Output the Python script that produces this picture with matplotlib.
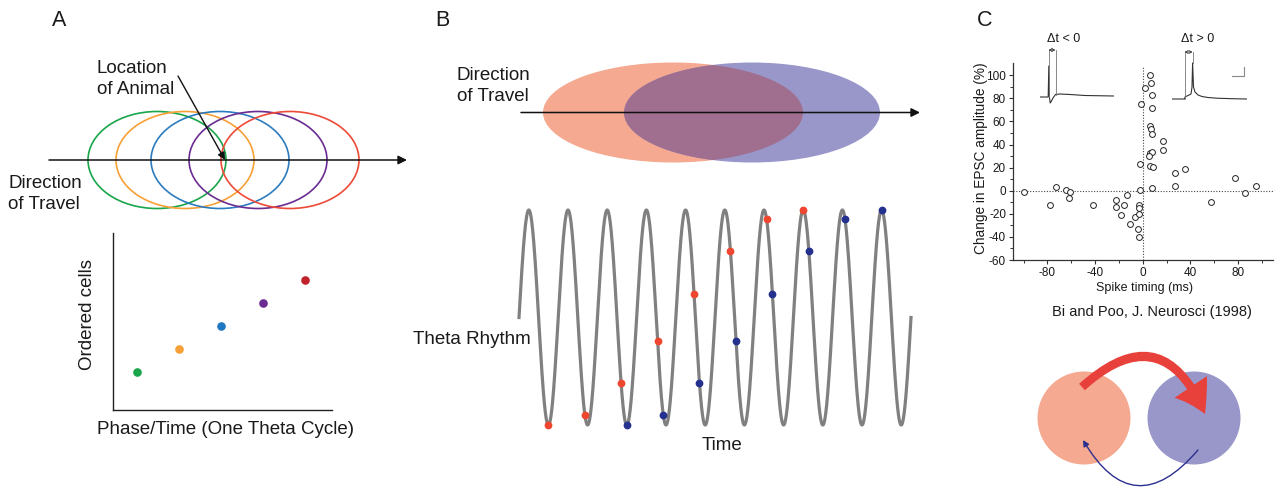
import numpy as np
import matplotlib
matplotlib.use('Agg')
import matplotlib.pyplot as plt
from matplotlib.patches import Ellipse, Circle, FancyArrowPatch

plt.rcParams['font.family'] = ['Liberation Sans', 'DejaVu Sans']
plt.rcParams['axes.unicode_minus'] = False

W, H = 1275, 488

# --- panel A: place fields along the track (track units) ---
field_centers = [11.7, 14.5, 18.0, 21.8, 25.0]
field_colors = ['#1aa54a', '#f7a035', '#2b7bc0', '#6a2c91', '#ee4a36']
animal_pos = 18.5

# firing order inside one theta cycle
cell_phase = [1, 2, 3, 4, 5]
cell_rank = [1, 2, 3, 4, 5]
dot_colors = ['#1aa54a', '#f7a035', '#1f78c0', '#6a2c91', '#c0232b']

# --- panel B: two overlapping fields, spikes precessing on theta ---
b_centers = [17.3, 25.2]
red_cycles = [0, 1, 2, 3, 4, 5, 6, 7]
blue_cycles = [2, 3, 4, 5, 6, 7, 8, 9]
spike_levels = [-1.0, -0.91, -0.61, -0.22, 0.22, 0.62, 0.92, 1.0]
n_cycles = 10

# --- panel C: Bi & Poo (1998) spike timing vs EPSC change ---
stdp_dt = [-99.4, -77.5, -72.5, -64.4, -60.7, -61.6, -41.4, -22.4, -22.1,
           -16.0, -13.2, -17.9, -10.9, -6.7, -3.9, -2.8, -3.1, -2.8, -3.4,
           -2.2, -2.0, -1.4, 2.2, 5.9, 7.3, 7.6, 7.8, 6.4, 7.3, 7.8, 6.4,
           7.8, 5.0, 6.4, 8.4, 8.1, 17.1, 16.8, 26.9, 27.4, 35.8, 57.7,
           77.2, 85.9, 95.2]
stdp_change = [-1.2, -12.4, 2.9, 0.3, -0.9, -6.3, -12.4, -8.1, -13.9,
               -12.4, -4.0, -21.4, -29.1, -22.8, -33.2, -40.4, -12.1, -15.3,
               -20.5, 0.9, 23.4, 75.3, 88.9, 100.4, 93.5, 83.1, 71.6, 56.0,
               53.4, 49.1, 32.6, 33.2, 29.7, 21.6, 20.8, 2.6, 43.0, 34.9,
               15.6, 4.0, 18.8, -9.5, 11.0, -2.3, 4.3]

# example traces for the two pairing orders
t_pre = [0, 8.2, 8.8, 9.4, 10.2, 11.5, 13, 15.5, 20, 30, 45, 74]
v_pre = [0, 0, 31, 0, -6, -4, -1, 2.5, 3, 2.5, 1.5, 1]
t_post = [0, 12.5, 13, 16, 19, 20, 20.6, 21.5, 23, 26, 30, 36, 45, 60, 75]
v_post = [0, 0, 2, 3.5, 5, 12, 36, 12, 7, 4, 2.5, 1.5, 0.8, 0.3, 0]

salmon = '#f5a990'
lilac = '#9997ca'
overlap = '#a06f8f'
txt = '#1a1a1a'

fig = plt.figure(figsize=(W / 100, H / 100), dpi=100)


def px_axes(x0, y0, x1, y1):
    ax = fig.add_axes([x0 / W, 1 - y1 / H, (x1 - x0) / W, (y1 - y0) / H])
    ax.patch.set_alpha(0)
    return ax


arrow_kw = dict(arrowstyle='-|>', color='#111111', lw=1.1,
                mutation_scale=13, shrinkA=0, shrinkB=0)

# A: place fields
axA = px_axes(40, 105, 410, 215)
axA.set_xlim(0, 37)
axA.set_ylim(-5.5, 5.5)
axA.axis('off')
for c, col in zip(field_centers, field_colors):
    axA.add_patch(Ellipse((c, 0), 13.8, 9.7, fill=False, ec=col, lw=1.2))
axA.annotate('', xy=(36.7, 0), xytext=(0.9, 0), arrowprops=arrow_kw)

# A: ordered cells vs phase
axS = px_axes(113, 233, 332, 410)
axS.set_xlim(0.43, 5.64)
axS.set_ylim(-0.65, 7.04)
for p, r, col in zip(cell_phase, cell_rank, dot_colors):
    axS.plot(p, r, 'o', ms=6.2, color=col, mec='none')
for s in ['top', 'right']:
    axS.spines[s].set_visible(False)
for s in ['left', 'bottom']:
    axS.spines[s].set_linewidth(1.0)
    axS.spines[s].set_color('#222222')
axS.set_xticks([])
axS.set_yticks([])

# B: overlapping fields
axB = px_axes(500, 55, 930, 170)
axB.set_xlim(0, 43)
axB.set_ylim(-5.75, 5.75)
axB.axis('off')
e1 = Ellipse((b_centers[0], 0), 26.0, 10.0, color=salmon, lw=0)
e2 = Ellipse((b_centers[1], 0), 25.6, 10.0, color=lilac, lw=0)
axB.add_patch(e1)
axB.add_patch(e2)
e3 = Ellipse((b_centers[0], 0), 26.0, 10.0, color=overlap, lw=0)
axB.add_patch(e3)
e3.set_clip_path(e2)
axB.annotate('', xy=(42.0, 0), xytext=(2.1, 0), arrowprops=arrow_kw)

# B: theta rhythm with precessing spikes
axT = px_axes(519, 210, 911, 425)
axT.set_xlim(0, n_cycles)
axT.set_ylim(-1, 1)
axT.axis('off')
t = np.linspace(0, n_cycles, 3000)
axT.plot(t, np.sin(2 * np.pi * t), color='#808080', lw=2.3, clip_on=False)
lv = np.array(spike_levels)
t_red = np.array(red_cycles) + 0.25 + np.arccos(lv) / (2 * np.pi)
t_blue = np.array(blue_cycles) + 0.25 + np.arccos(lv) / (2 * np.pi)
axT.plot(t_red, lv, 'o', ms=5.6, color='#ef4630', mec='none', clip_on=False, zorder=3)
axT.plot(t_blue, lv, 'o', ms=5.6, color='#25318f', mec='none', clip_on=False, zorder=3)

# C: STDP scatter
axC = px_axes(1013, 63, 1273, 260)
axC.set_xlim(-108.9, 109.4)
axC.set_ylim(-60, 110.6)
axC.axhline(0, color='#444444', lw=0.8, ls=(0, (1, 1.5)), zorder=1)
axC.plot([0, 0], [-60, 107], color='#444444', lw=0.8, ls=(0, (1, 1.5)), zorder=1)
axC.plot(stdp_dt, stdp_change, 'o', ms=4.2, mfc='white', mec='#222222',
         mew=0.7, zorder=3)
for s in ['top', 'right']:
    axC.spines[s].set_visible(False)
for s in ['left', 'bottom']:
    axC.spines[s].set_linewidth(0.9)
    axC.spines[s].set_color('#333333')
axC.set_xticks([-80, -40, 0, 40, 80])
axC.set_xticks([-100, -60, -20, 20, 60, 100], minor=True)
axC.set_yticks(np.arange(-60, 101, 20))
axC.set_yticks(np.arange(-50, 101, 20), minor=True)
axC.tick_params(which='major', direction='out', length=3, width=0.8,
                labelsize=8.5, pad=2, color='#333333', labelcolor=txt)
axC.tick_params(which='minor', direction='out', length=2, width=0.7,
                color='#333333')

# C: example traces
axL = px_axes(1040, 40, 1114, 105)
axL.set_xlim(0, 74)
axL.set_ylim(-8, 57)
axL.axis('off')
axL.plot(t_pre, v_pre, color='#333333', lw=0.8)
axL.plot([8.5, 8.5], [0, 47], color='#777777', lw=0.6)
axL.plot([15.5, 15.5], [2, 47], color='#777777', lw=0.6)
axL.annotate('', xy=(15.5, 47), xytext=(8.5, 47),
             arrowprops=dict(arrowstyle='<->', lw=0.6, color='#333333',
                             mutation_scale=5, shrinkA=0, shrinkB=0))

axR = px_axes(1172, 42, 1247, 107)
axR.set_xlim(0, 75)
axR.set_ylim(-8, 57)
axR.axis('off')
axR.plot(t_post, v_post, color='#333333', lw=0.8)
axR.plot([12.5, 12.5], [0, 47], color='#777777', lw=0.6)
axR.plot([20.6, 20.6], [36, 47], color='#777777', lw=0.6)
axR.annotate('', xy=(20.6, 47), xytext=(12.5, 47),
             arrowprops=dict(arrowstyle='<->', lw=0.6, color='#333333',
                             mutation_scale=5, shrinkA=0, shrinkB=0))
axR.plot([60, 72, 72], [23, 23, 32], color='#888888', lw=0.8)

# overlay in pixel units for labels and the bottom-right sketch
ov = fig.add_axes([0, 0, 1, 1])
ov.set_xlim(0, W)
ov.set_ylim(H, 0)
ov.axis('off')
ov.patch.set_alpha(0)

for lab, x in [('A', 59), ('B', 442), ('C', 985)]:
    ov.text(x, 21, lab, fontsize=15.5, ha='center', va='center', color=txt)

big = 13.5
ov.text(97, 79, 'Location\nof Animal', fontsize=big, va='center', ha='left',
        linespacing=1.25, color=txt)
ov.annotate('', xy=(animal_pos, 0), xycoords=axA.transData,
            xytext=(178, 76), textcoords='data',
            arrowprops=dict(arrowstyle='-|>', color='#111111', lw=1.0,
                            mutation_scale=11, shrinkA=0, shrinkB=0))
ov.text(8, 194, 'Direction\nof Travel', fontsize=big, va='center', ha='left',
        linespacing=1.25, color=txt)
ov.text(88, 315, 'Ordered cells', fontsize=big, va='center', ha='center',
        rotation=90, color=txt)
ov.text(97, 429, 'Phase/Time (One Theta Cycle)', fontsize=big, va='center',
        ha='left', color=txt)

ov.text(457, 86, 'Direction\nof Travel', fontsize=big, va='center', ha='left',
        linespacing=1.25, color=txt)
ov.text(413, 340, 'Theta Rhythm', fontsize=big, va='center', ha='left', color=txt)
ov.text(722, 446, 'Time', fontsize=big, va='center', ha='center', color=txt)

ov.text(981, 158, 'Change in EPSC amplitude (%)', fontsize=9.8, rotation=90,
        va='center', ha='center', color=txt)
ov.text(1144, 288, 'Spike timing (ms)', fontsize=9, va='center', ha='center',
        color=txt)
ov.text(1152, 312, 'Bi and Poo, J. Neurosci (1998)', fontsize=10.5,
        va='center', ha='center', color=txt)
ov.text(1064, 39, '\u0394t < 0', fontsize=9, va='center', ha='center', color=txt)
ov.text(1198, 39, '\u0394t > 0', fontsize=9, va='center', ha='center', color=txt)

# pre -> post strengthened, post -> pre weakened
ov.add_patch(Circle((1084, 418), 46.5, color=salmon, lw=0))
ov.add_patch(Circle((1194, 418), 46.5, color=lilac, lw=0))
ov.add_patch(FancyArrowPatch((1082, 387), (1205, 414),
                             connectionstyle='arc3,rad=-0.7',
                             arrowstyle='simple,tail_width=6.2,head_width=28,head_length=22',
                             mutation_scale=1, color='#e8403a', lw=0,
                             shrinkA=0, shrinkB=0))
ov.add_patch(FancyArrowPatch((1198, 450), (1083, 440),
                             connectionstyle='arc3,rad=-0.7',
                             arrowstyle='-|>', mutation_scale=9,
                             color='#2b2f8f', lw=1.0, shrinkA=0, shrinkB=0))

fig.savefig('out.png', dpi=100, facecolor='white')
